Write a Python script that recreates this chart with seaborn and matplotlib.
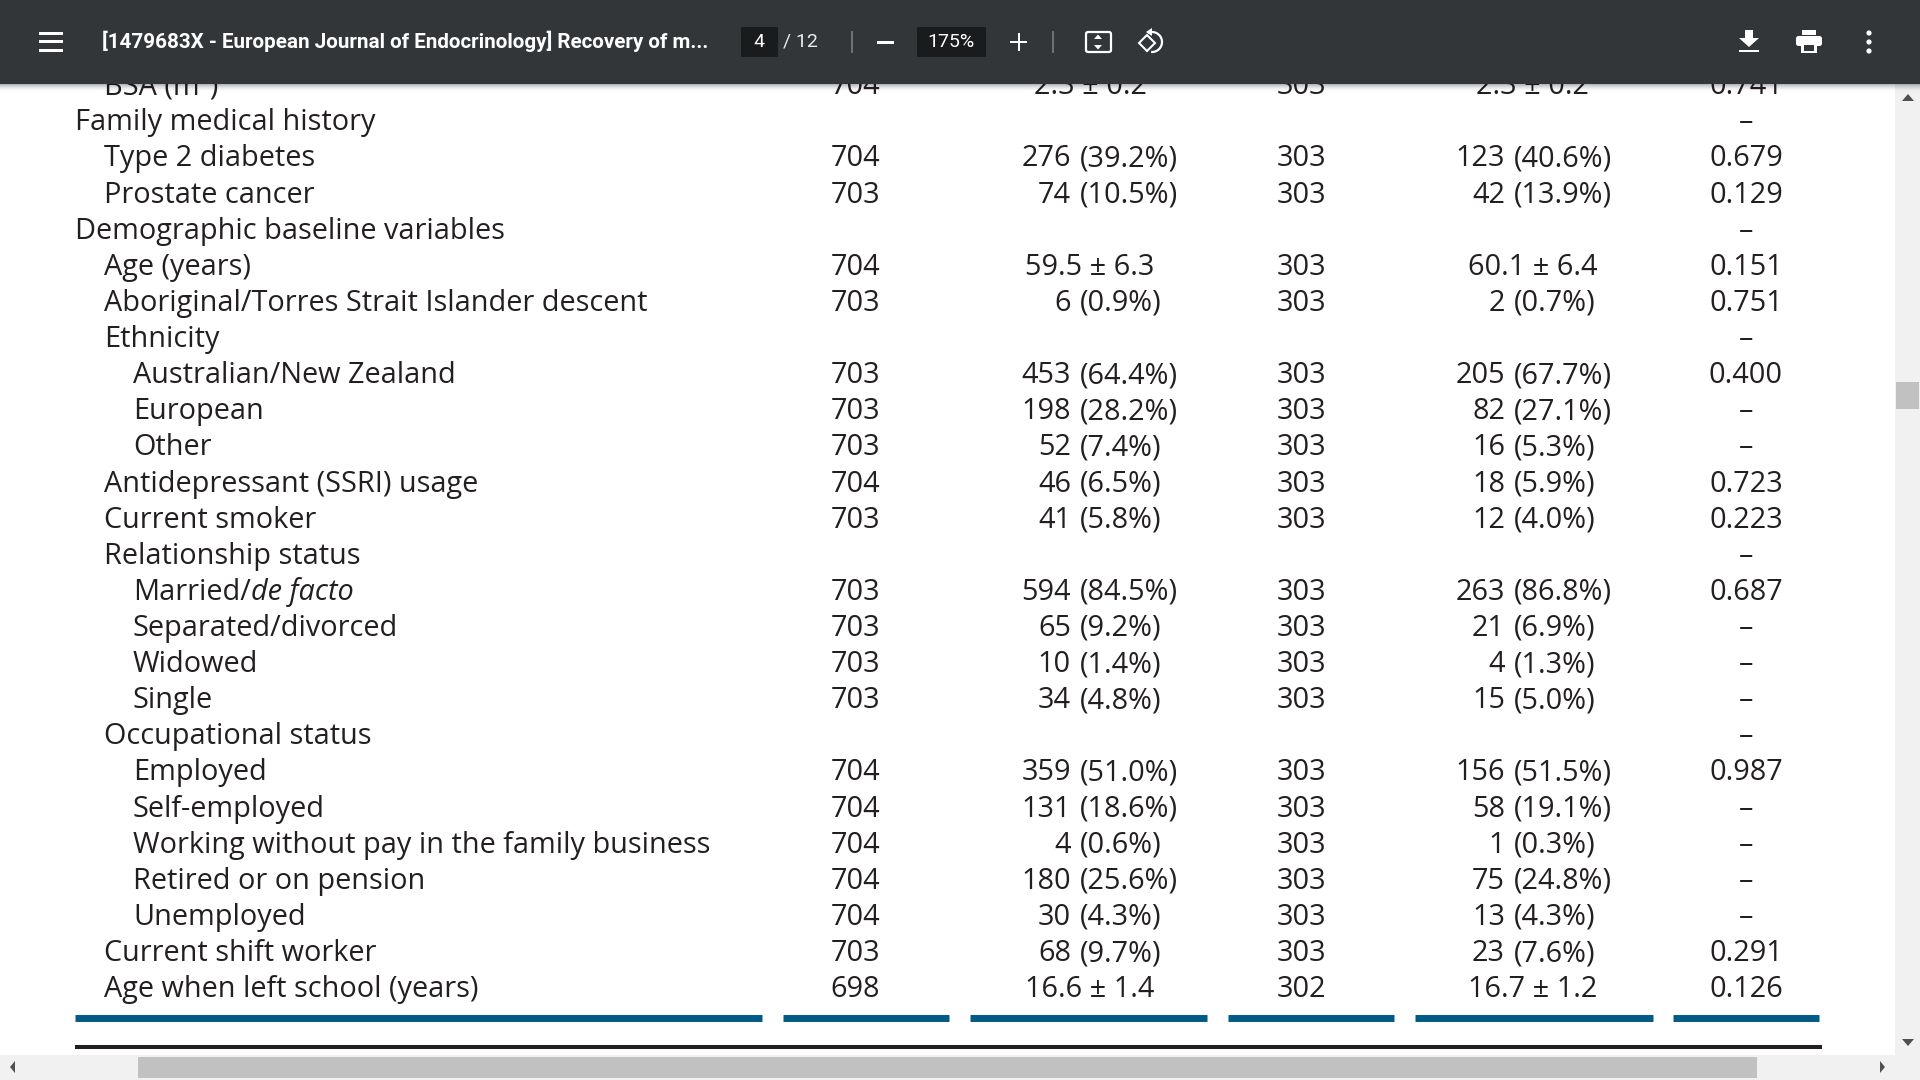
import matplotlib
matplotlib.use("Agg")
import matplotlib.pyplot as plt
from matplotlib.patches import Rectangle, FancyBboxPatch, Polygon, Circle, Arc
import seaborn as sns

# ── table values ─────────────────────────────────────────────────────────────
labels = ["BSA (m²)", "Family medical history", "Type 2 diabetes", "Prostate cancer",
          "Demographic baseline variables", "Age (years)",
          "Aboriginal/Torres Strait Islander descent", "Ethnicity",
          "Australian/New Zealand", "European", "Other", "Antidepressant (SSRI) usage",
          "Current smoker", "Relationship status", "Married/", "Separated/divorced",
          "Widowed", "Single", "Occupational status", "Employed", "Self-employed",
          "Working without pay in the family business", "Retired or on pension",
          "Unemployed", "Current shift worker", "Age when left school (years)"]
indent = [1, 0, 1, 1, 0, 1, 1, 1, 2, 2, 2, 1, 1, 1, 2, 2, 2, 2, 1, 2, 2, 2, 2, 2, 1, 1]
n_left = ["704", "", "704", "703", "", "704", "703", "", "703", "703", "703", "704", "703",
          "", "703", "703", "703", "703", "", "704", "704", "704", "704", "704", "703", "698"]
val_left = ["2.3 ± 0.2", "", "276 (39.2%)", "74 (10.5%)", "", "59.5 ± 6.3", "6 (0.9%)", "",
            "453 (64.4%)", "198 (28.2%)", "52 (7.4%)", "46 (6.5%)", "41 (5.8%)", "",
            "594 (84.5%)", "65 (9.2%)", "10 (1.4%)", "34 (4.8%)", "",
            "359 (51.0%)", "131 (18.6%)", "4 (0.6%)", "180 (25.6%)", "30 (4.3%)",
            "68 (9.7%)", "16.6 ± 1.4"]
n_right = ["303", "", "303", "303", "", "303", "303", "", "303", "303", "303", "303", "303",
           "", "303", "303", "303", "303", "", "303", "303", "303", "303", "303", "303", "302"]
val_right = ["2.3 ± 0.2", "", "123 (40.6%)", "42 (13.9%)", "", "60.1 ± 6.4", "2 (0.7%)", "",
             "205 (67.7%)", "82 (27.1%)", "16 (5.3%)", "18 (5.9%)", "12 (4.0%)", "",
             "263 (86.8%)", "21 (6.9%)", "4 (1.3%)", "15 (5.0%)", "",
             "156 (51.5%)", "58 (19.1%)", "1 (0.3%)", "75 (24.8%)", "13 (4.3%)",
             "23 (7.6%)", "16.7 ± 1.2"]
p_vals = ["0.741", "–", "0.679", "0.129", "–", "0.151", "0.751", "–", "0.400", "–", "–",
          "0.723", "0.223", "–", "0.687", "–", "–", "–", "–", "0.987", "–", "–", "–", "–",
          "0.291", "0.126"]

rule_starts = [75, 783, 970, 1228, 1415, 1673]
rule_ends = [762, 949, 1207, 1394, 1653, 1819]

DARK = "#323639"
INK = "#231f20"
BLUE = "#005b88"
FS = 20.8

sns.set_theme(style="white")
plt.rcParams["font.family"] = ["Open Sans", "DejaVu Sans"]

fig = plt.figure(figsize=(19.2, 10.8), dpi=100, facecolor="white")
ax = fig.add_axes([0, 0, 1, 1])
ax.axis("off")


def cell(x, y, s, **kw):
    return ax.text(x, y, s, fontsize=FS, color=INK, va="baseline", zorder=2, **kw)


def value_cell(s, y, center, count_x, pct_x):
    # counts line up on the bracket, mean +/- sd is centred
    if "(" in s:
        count, pct = s.split(" ")
        cell(count_x, y, count, ha="right")
        cell(pct_x, y, pct, ha="left")
    elif s:
        cell(center, y, s, ha="center")


# ── table ────────────────────────────────────────────────────────────────────
indent_x = [75, 104, 133]
for i, label in enumerate(labels):
    y = 94.2 + i * 36.12
    t = cell(indent_x[indent[i]], y, label, ha="left")
    if label == "Married/":
        bb = t.get_window_extent(fig.canvas.get_renderer())
        cell(indent_x[2] + bb.width, y, "de facto", ha="left", style="italic")
    if n_left[i]:
        cell(855.5, y, n_left[i], ha="center")
        cell(1301, y, n_right[i], ha="center")
    value_cell(val_left[i], y, 1090, 1071, 1079.5)
    value_cell(val_right[i], y, 1533, 1505, 1514)
    cell(1746, y, p_vals[i], ha="center")

for a, b in zip(rule_starts, rule_ends):
    sns.lineplot(x=[a, b], y=[1017.5, 1017.5], ax=ax, color=BLUE, linewidth=5.0,
                 solid_capstyle="butt", errorbar=None, sort=False, legend=False)
sns.lineplot(x=[75, 1822], y=[1047, 1047], ax=ax, color=INK, linewidth=2.9,
             solid_capstyle="butt", errorbar=None, sort=False, legend=False)

# ── scrollbars ───────────────────────────────────────────────────────────────
ax.add_patch(Rectangle((1895, 84), 25, 996, fc="#f1f1f1", ec="none", zorder=4))
ax.add_patch(Rectangle((0, 1055), 1920, 25, fc="#f1f1f1", ec="none", zorder=4))
ax.add_patch(Rectangle((138, 1057), 1619, 21, fc="#c1c1c1", ec="none", zorder=5))
ax.add_patch(Rectangle((1896, 382), 23, 27, fc="#c1c1c1", ec="none", zorder=5))
for pts in ([(1902, 101), (1914, 101), (1908, 94)], [(1902, 1039), (1914, 1039), (1908, 1046)],
            [(15, 1061), (15, 1073), (10, 1067)], [(1880, 1061), (1880, 1073), (1885, 1067)]):
    ax.add_patch(Polygon(pts, fc="#505050", ec="none", zorder=6))

# ── viewer toolbar ───────────────────────────────────────────────────────────
for k in range(8):
    ax.add_patch(Rectangle((0, 84 + k), 1920, 1, fc="black", alpha=0.28 * (1 - k / 8) ** 2,
                           ec="none", zorder=7))
ax.add_patch(Rectangle((0, 0), 1920, 84, fc=DARK, ec="none", zorder=8))


def bar(x0, y0, w, h, fc="white"):
    ax.add_patch(Rectangle((x0, y0), w, h, fc=fc, ec="none", zorder=9))


def tool_text(x, y, s, ha="center", **kw):
    ax.text(x, y, s, color="white", ha=ha, va="center", zorder=10, family="Roboto", **kw)


for yb in (32, 40, 49):
    bar(39, yb, 24, 3)
tool_text(102, 41.5, "[1479683X - European Journal of Endocrinology] Recovery of m...", ha="left",
          fontsize=14.85, fontweight="bold")
bar(741, 27, 37, 30, "#191b1c")
tool_text(759, 42, "4", fontsize=14)
tool_text(783, 41.5, "/ 12", ha="left", fontsize=14, alpha=0.9)
bar(851, 31, 1.5, 22, "#6e7173")
bar(877, 41, 17, 2.5)
bar(917, 27, 69, 30, "#191b1c")
tool_text(951, 42, "175%", fontsize=14)
bar(1010, 41, 17, 2)
bar(1017.5, 33, 2, 18)
bar(1052, 31, 1.5, 22, "#6e7173")

# fit to page
ax.add_patch(FancyBboxPatch((1087, 33), 23, 18, boxstyle="round,pad=1,rounding_size=2",
                            fc="none", ec="white", lw=1.6, zorder=9))
ax.add_patch(Polygon([(1094, 39), (1102, 39), (1098, 34.5)], fc="white", ec="none", zorder=9))
ax.add_patch(Polygon([(1094, 45), (1102, 45), (1098, 49.5)], fc="white", ec="none", zorder=9))

# rotate
ax.add_patch(Polygon([(1139, 43), (1147, 35), (1155, 43), (1147, 51)], fc="none", ec="white",
                     lw=1.5, zorder=9))
ax.add_patch(Arc((1152, 42), 20, 20, theta1=-115, theta2=95, ec="white", lw=1.6, zorder=9))
ax.add_patch(Polygon([(1152, 28), (1152, 36), (1146, 32)], fc="white", ec="none", zorder=9))

# download
bar(1745, 30, 8, 9)
ax.add_patch(Polygon([(1739, 38), (1759, 38), (1749, 47)], fc="white", ec="none", zorder=9))
bar(1739, 49.5, 20, 2.5)

# print
bar(1802, 30, 14, 5)
ax.add_patch(FancyBboxPatch((1796, 36), 26, 10, boxstyle="round,pad=0,rounding_size=2.5",
                            fc="white", ec="none", zorder=9))
bar(1801, 43, 16, 10)
bar(1804, 45, 10, 6, DARK)

for yd in (33, 42, 51):
    ax.add_patch(Circle((1869, yd), 2.6, fc="white", ec="none", zorder=9))

ax.set_xlim(0, 1920)
ax.set_ylim(1080, 0)
ax.axis("off")

fig.savefig("out.png", dpi=100)
plt.close(fig)
